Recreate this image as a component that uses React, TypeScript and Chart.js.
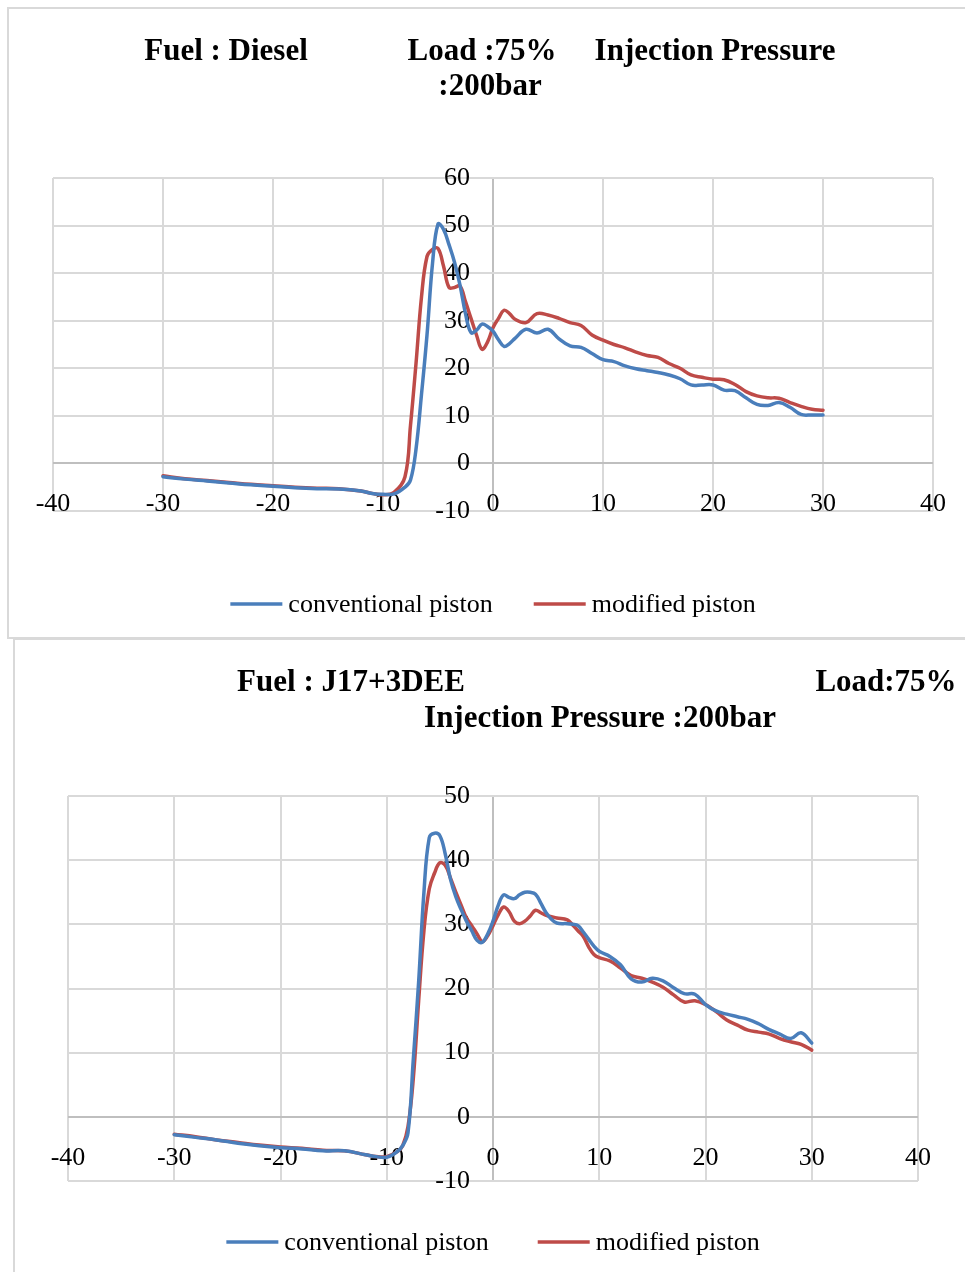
import React, { useEffect, useRef } from "react";
import { Chart, registerables } from "chart.js";

Chart.register(...registerables);

// ---------- data ----------
const SERIES_LABELS = ["conventional piston", "modified piston"];
const SERIES_COLORS = ["#4A7EBB", "#BE4B48"];

// Chart 1 : Diesel
const DIESEL_ANGLE = [
  -30, -28, -26, -24, -22, -20, -18, -16, -14, -12, -11, -10, -9, -8, -7.5, -7, -6.5, -6, -5.5, -5,
  -4.5, -4, -3.5, -3, -2.5, -2, -1.5, -1, -0.5, 0, 0.5, 1, 1.5, 2, 3, 4, 5, 6, 7, 8, 9, 10, 11, 12,
  13, 14, 15, 16, 17, 18, 19, 20, 21, 22, 23, 24, 25, 26, 27, 28, 29, 30,
];
const DIESEL_CONVENTIONAL = [
  -2.8, -3.3, -3.7, -4.1, -4.5, -4.8, -5.1, -5.3, -5.4, -5.8, -6.3, -6.5, -6.4, -5.0, -3.5, 3.0, 14.5, 27, 42, 50.3,
  49.2, 46, 42.3, 37.5, 31.5, 27.5, 28, 29.3, 28.8, 27.8, 26, 24.6, 25.2, 26.3, 28.2, 27.4, 28.2, 26.2, 24.7, 24.4, 23.1, 21.8, 21.4, 20.5,
  19.9, 19.5, 19.1, 18.6, 17.8, 16.5, 16.5, 16.5, 15.4, 15.3, 13.8, 12.4, 12.2, 12.8, 11.8, 10.3, 10.2, 10.2,
];
const DIESEL_MODIFIED = [
  -2.6, -3.2, -3.6, -4.0, -4.4, -4.7, -5.0, -5.2, -5.3, -5.8, -6.3, -6.6, -6.1, -2.8, 8, 21, 35, 43.5, 45, 45.2,
  41.5, 37, 37, 37.3, 34, 30.5, 27, 24, 25.5, 28.5, 30.5, 32.2, 31.5, 30.3, 29.6, 31.5, 31.2, 30.5, 29.6, 29, 27, 25.9, 25, 24.3,
  23.4, 22.7, 22.3, 21, 20, 18.6, 18.1, 17.7, 17.6, 16.6, 15.1, 14.2, 13.8, 13.7, 12.8, 12, 11.4, 11.2,
];

// Chart 2 : J17+3DEE
const BLEND_ANGLE = [
  -30, -28, -26, -24, -22, -20, -18, -16, -14, -12, -11, -10, -9, -8.5, -8, -7.5, -7, -6.5, -6, -5.5,
  -5, -4.5, -4, -3.5, -3, -2.5, -2, -1.5, -1, -0.5, 0, 0.5, 1, 1.5, 2, 2.5, 3, 3.5, 4, 4.5, 5, 5.5,
  6, 7, 7.5, 8, 8.5, 9, 9.5, 10, 11, 12, 13, 14, 15, 16, 17, 18, 19, 20, 21, 22, 23, 24, 25, 26,
  27, 28, 29, 30,
];
const BLEND_CONVENTIONAL = [
  -2.8, -3.2, -3.6, -4.1, -4.5, -4.8, -5.0, -5.3, -5.3, -5.9, -6.2, -6.3, -5.4, -4.5, -2.5, 9.0, 21, 35, 43.5, 44.2,
  43.8, 41, 37, 34.3, 32.3, 30.5, 29, 27.5, 27.2, 28.5, 30.5, 33, 34.6, 34.2, 34, 34.6, 35, 35, 34.7, 33.3, 31.8, 30.8,
  30.2, 30.1, 30.0, 29.8, 28.8, 27.7, 26.6, 25.8, 25, 23.7, 21.5, 21.0, 21.6, 21.2, 20.1, 19.2, 19.1, 17.5, 16.5, 16.0, 15.6, 15.2, 14.5, 13.6,
  12.9, 12.2, 13.1, 11.5,
];
const BLEND_MODIFIED = [
  -2.7, -3.1, -3.6, -4.0, -4.4, -4.7, -4.9, -5.2, -5.3, -5.9, -6.2, -6.2, -5.4, -4.5, -1.5, 6, 18, 29, 35.5, 38,
  39.6, 39.2, 37.2, 35, 33, 31, 29.8, 28.5, 27.3, 28.2, 29.8, 31.5, 32.7, 32, 30.5, 30.1, 30.5, 31.3, 32.2, 31.8, 31.4, 31.2,
  31, 30.7, 29.9, 29, 28.1, 26.5, 25.3, 24.8, 24.3, 23.2, 22.0, 21.6, 21.0, 20.2, 19.0, 17.9, 18.1, 17.5, 16.4, 15.1, 14.3, 13.5, 13.2, 12.9,
  12.2, 11.7, 11.3, 10.4,
];

const X_MIN = -40;
const X_MAX = 40;
const Y_STEP = 10;
const DIESEL_Y_RANGE = [-10, 60];
const BLEND_Y_RANGE = [-10, 50];

const DIESEL_TITLE = [
  { text: "Fuel : Diesel", x: 226, y: 60 },
  { text: "Load :75%", x: 482, y: 60 },
  { text: "Injection Pressure", x: 715, y: 60 },
  { text: ":200bar", x: 490, y: 95 },
];
const BLEND_TITLE = [
  { text: "Fuel : J17+3DEE", x: 351, y: 51 },
  { text: "Load:75%", x: 886, y: 51 },
  { text: "Injection Pressure :200bar", x: 600, y: 87 },
];

// ---------- styling ----------
const FONT = "'Liberation Serif', 'Times New Roman', serif";
const GRID_COLOR = "#d9d9d9";
const AXIS_COLOR = "#bfbfbf";

const decorPlugin = {
  id: "decor",
  beforeDatasetsDraw(chart: any, _args: any, opts: any) {
    const { ctx } = chart;
    const xs = chart.scales.x;
    const ys = chart.scales.y;
    const x0 = xs.getPixelForValue(0);
    const y0 = ys.getPixelForValue(0);
    ctx.save();
    ctx.fillStyle = "#000";
    ctx.font = `${opts.tickSize}px ${FONT}`;
    ctx.textBaseline = "middle";
    ctx.textAlign = "right";
    ys.ticks.forEach((t: any) => {
      ctx.fillText(String(t.value), x0 - opts.yGap, ys.getPixelForValue(t.value));
    });
    ctx.textAlign = "center";
    xs.ticks.forEach((t: any) => {
      ctx.fillText(String(t.value), xs.getPixelForValue(t.value), y0 + opts.xGap);
    });
    ctx.restore();
  },
  afterDraw(chart: any, _args: any, opts: any) {
    const { ctx, chartArea } = chart;
    ctx.save();
    // title
    ctx.fillStyle = "#000";
    ctx.font = `bold ${opts.titleSize}px ${FONT}`;
    ctx.textAlign = "center";
    ctx.textBaseline = "alphabetic";
    opts.title.forEach((s: any) => ctx.fillText(s.text, s.x, s.y));
    // legend
    ctx.font = `${opts.legendSize}px ${FONT}`;
    ctx.textBaseline = "middle";
    ctx.textAlign = "left";
    const items = chart.data.datasets.map((ds: any) => ({
      label: ds.label,
      color: ds.borderColor,
      w: ctx.measureText(ds.label).width,
    }));
    const lineLen = 52;
    const textGap = 6;
    const total =
      items.reduce((s: number, it: any) => s + lineLen + textGap + it.w, 0) +
      opts.legendItemGap * (items.length - 1);
    let x = (chartArea.left + chartArea.right) / 2 - total / 2;
    const y = opts.legendY;
    items.forEach((it: any) => {
      ctx.strokeStyle = it.color;
      ctx.lineWidth = 3.5;
      ctx.lineCap = "butt";
      ctx.beginPath();
      ctx.moveTo(x, y);
      ctx.lineTo(x + lineLen, y);
      ctx.stroke();
      ctx.fillStyle = "#000";
      ctx.fillText(it.label, x + lineLen + textGap, y + 1);
      x += lineLen + textGap + it.w + opts.legendItemGap;
    });
    ctx.restore();
  },
};

function makeConfig(
  angles: number[],
  conv: number[],
  mod: number[],
  yRange: number[],
  padding: any,
  decor: any
): any {
  const series = [conv, mod];
  const gridColor = (c: any) => (c.tick && c.tick.value === 0 ? AXIS_COLOR : GRID_COLOR);
  return {
    type: "line",
    data: {
      datasets: series.map((vals, i) => ({
        label: SERIES_LABELS[i],
        data: angles.map((a, j) => ({ x: a, y: vals[j] })),
        borderColor: SERIES_COLORS[i],
        backgroundColor: SERIES_COLORS[i],
        borderWidth: 3.5,
        pointRadius: 0,
        tension: 0.4,
        fill: false,
        borderCapStyle: "round",
        borderJoinStyle: "round",
      })),
    },
    options: {
      responsive: false,
      animation: false,
      devicePixelRatio: 1,
      layout: { padding },
      plugins: {
        legend: { display: false },
        title: { display: false },
        tooltip: { enabled: false },
        decor,
      },
      scales: {
        x: {
          type: "linear",
          min: X_MIN,
          max: X_MAX,
          ticks: { stepSize: 10, display: false },
          grid: { color: gridColor, lineWidth: 2, drawTicks: false },
          border: { display: false },
        },
        y: {
          type: "linear",
          min: yRange[0],
          max: yRange[1],
          ticks: { stepSize: Y_STEP, display: false },
          grid: { color: gridColor, lineWidth: 2, drawTicks: false },
          border: { display: false },
        },
      },
    },
    plugins: [decorPlugin],
  };
}

function ChartCanvas(props: { config: () => any; left: number; top: number; width: number; height: number }) {
  const ref = useRef<HTMLCanvasElement>(null);
  useEffect(() => {
    const chart = new Chart(ref.current as HTMLCanvasElement, props.config());
    return () => chart.destroy();
  }, []);
  return (
    <canvas
      ref={ref}
      width={props.width}
      height={props.height}
      style={{ position: "absolute", left: props.left, top: props.top, width: props.width, height: props.height }}
    />
  );
}

export default function App() {
  const frame = "2px solid #d9d9d9";
  return (
    <div
      style={{
        position: "fixed",
        left: 0,
        top: 0,
        width: 965,
        height: 1272,
        overflow: "hidden",
        background: "#fff",
      }}
    >
      <div style={{ position: "absolute", left: 7, top: 7, width: 990, height: 632, border: frame, boxSizing: "border-box" }} />
      <div style={{ position: "absolute", left: 13, top: 638, width: 1200, height: 700, border: frame, boxSizing: "border-box" }} />
      <ChartCanvas
        left={0}
        top={0}
        width={965}
        height={637}
        config={() =>
          makeConfig(
            DIESEL_ANGLE,
            DIESEL_CONVENTIONAL,
            DIESEL_MODIFIED,
            DIESEL_Y_RANGE,
            { left: 53, right: 32, top: 178, bottom: 126 },
            { tickSize: 26, yGap: 23, xGap: 41, titleSize: 31, title: DIESEL_TITLE, legendSize: 26, legendY: 604, legendItemGap: 41 }
          )
        }
      />
      <ChartCanvas
        left={0}
        top={640}
        width={965}
        height={632}
        config={() =>
          makeConfig(
            BLEND_ANGLE,
            BLEND_CONVENTIONAL,
            BLEND_MODIFIED,
            BLEND_Y_RANGE,
            { left: 68, right: 47, top: 156, bottom: 91 },
            { tickSize: 26, yGap: 23, xGap: 41, titleSize: 31, title: BLEND_TITLE, legendSize: 26, legendY: 602, legendItemGap: 49 }
          )
        }
      />
    </div>
  );
}
